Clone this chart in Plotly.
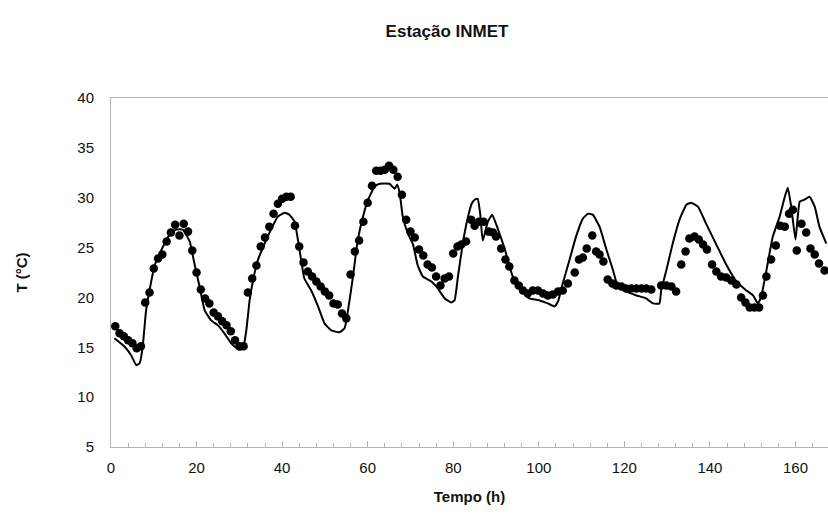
import plotly.graph_objects as go

# Observed (INMET) dots
obs_t = [1, 2, 3, 4, 5, 6, 7, 8, 9, 10, 11, 12, 13, 14, 15, 16, 17, 18, 19, 20,
         21, 22, 23, 24, 25, 26, 27, 28, 29, 30, 31, 32, 33, 34, 35, 36, 37, 38, 39, 40,
         41, 42, 43, 44, 45, 46, 47, 48, 49, 50, 51, 52, 53, 54, 55, 56, 57, 58, 59, 60,
         61, 62, 63, 64, 65, 66, 67, 68, 69, 70, 71, 72, 73, 74, 75, 76, 77, 78, 79, 80,
         81, 81.9, 83, 84.2, 85, 86, 87.1, 88.3, 89.3, 90, 91.2, 92.2, 93.1, 94.3, 95.3, 96.3,
         97.4, 98.6, 99.8, 101, 102.1, 103.3, 104.5, 105.6, 106.8, 108.4, 109.4, 110.3, 111.2,
         112.5, 113.4, 114.2, 115.1, 116.1, 117.2, 118.1, 119.3, 120.4, 121.6, 122.8, 124,
         125.1, 126.3, 128.6, 129.8, 131, 132.1, 133.3, 134.3, 135.2, 136.4, 137.4, 138.4,
         139.3, 140.5, 141.5, 142.6, 143.8, 145, 146.2, 147.3, 148.3, 149.3, 150.4, 151.5,
         152.4, 153.2, 154.3, 155.4, 156.4, 157.5, 158.5, 159.4, 160.3, 161.4, 162.5, 163.5,
         164.5, 165.5, 166.8]
obs_T = [17.1, 16.4, 16.1, 15.7, 15.4, 14.9, 15.1, 19.5, 20.5, 22.9, 23.9, 24.3, 25.6, 26.5,
         27.3, 26.2, 27.4, 26.6, 24.7, 22.5, 20.8, 19.9, 19.4, 18.5, 18.1, 17.6, 17.2, 16.6,
         15.7, 15.1, 15.1, 20.5, 21.9, 23.2, 25.1, 26.0, 27.1, 28.4, 29.4, 29.9, 30.1, 30.1,
         27.2, 25.1, 23.5, 22.6, 22.1, 21.6, 21.1, 20.6, 20.2, 19.4, 19.3, 18.4, 17.9, 22.3,
         24.6, 25.7, 27.6, 29.5, 31.2, 32.7, 32.7, 32.8, 33.2, 32.8, 32.1, 30.3, 27.8, 26.6,
         26.0, 24.8, 24.2, 23.3, 23.0, 22.1, 21.2, 21.9, 22.1, 24.4, 25.1, 25.3, 25.6, 27.8,
         27.2, 27.6, 27.6, 26.6, 26.5, 26.1, 24.9, 23.8, 23.1, 21.7, 21.2, 20.7, 20.4, 20.7,
         20.7, 20.4, 20.2, 20.3, 20.6, 20.7, 21.4, 22.5, 23.8, 24.0, 24.9, 26.2, 24.6, 24.3,
         23.6, 21.8, 21.4, 21.2, 21.1, 20.9, 20.9, 20.9, 20.9, 20.9, 20.8, 21.2, 21.2, 21.1,
         20.6, 23.3, 24.6, 25.9, 26.1, 25.8, 25.3, 24.8, 23.3, 22.6, 22.1, 22.0, 21.7, 21.3,
         20.0, 19.5, 19.0, 19.0, 19.0, 20.2, 22.1, 23.8, 25.2, 27.2, 27.1, 28.4, 28.8, 24.7,
         27.4, 26.5, 24.9, 24.3, 23.4, 22.7]

# Modelled line
mod_t = [0.8, 3.2, 4.7, 5.9, 6.7, 7.4, 8.2, 9.0, 10.2, 11.7, 13.7, 15.2, 16.8, 18.4, 19.5,
         20.7, 21.9, 23.4, 25.0, 26.5, 28.1, 29.7, 30.8, 31.6, 32.4, 33.2, 34.3, 35.9, 37.5,
         39.0, 40.6, 41.7, 42.9, 44.1, 45.2, 46.8, 48.4, 49.9, 51.5, 53.4, 54.6, 55.4, 56.5,
         57.7, 58.9, 60.1, 61.6, 62.8, 65.1, 66.3, 66.9, 67.5, 68.2, 69.4, 70.6, 71.7, 72.9,
         74.9, 76.4, 78.0, 79.5, 80.3, 81.1, 82.3, 83.4, 84.3, 85.0, 85.7, 86.3, 86.9, 88.1,
         89.1, 90.4, 92.0, 93.9, 95.5, 97.8, 100.2, 102.1, 103.7, 104.5, 105.6, 107.2, 108.7,
         110.3, 111.5, 112.6, 114.2, 115.8, 117.3, 118.5, 120.4, 122.8, 125.1, 126.7, 128.2,
         128.6, 129.8, 131.3, 132.9, 134.5, 135.6, 137.2, 139.1, 141.5, 143.8, 146.2, 148.5,
         150.1, 151.2, 152.0, 153.2, 154.7, 156.3, 157.5, 158.2, 159.0, 160.0, 161.0, 162.1,
         163.3, 164.5, 165.6, 167.2]
mod_T = [15.9, 15.05, 14.2, 13.2, 13.4, 15.05, 18.7, 20.7, 23.2, 24.7, 26.3, 26.8, 26.8,
         25.6, 23.4, 21.1, 18.7, 17.7, 17.2, 16.4, 15.4, 14.8, 14.8, 16.6, 19.7, 21.7, 23.7,
         25.4, 26.9, 28.1, 28.5, 28.3, 27.6, 24.7, 21.9, 20.7, 19.1, 17.4, 16.7, 16.5, 16.9,
         18.7, 21.9, 25.8, 28.1, 29.8, 31.1, 31.4, 31.4, 30.9, 31.3, 30.4, 28.1, 26.4, 25.3,
         23.2, 22.1, 21.6, 20.9, 19.9, 19.5, 19.7, 22.1, 25.6, 28.0, 29.4, 29.8, 29.9, 28.4,
         25.7, 27.6, 28.3, 26.9, 24.9, 22.1, 20.9, 19.9, 19.7, 19.4, 19.1, 19.6, 21.4, 23.8,
         26.1, 27.9, 28.4, 28.3, 27.1, 24.8, 22.8, 21.1, 20.6, 20.2, 19.9, 19.4, 19.4, 20.7,
         22.7, 25.4, 27.8, 29.3, 29.5, 29.1, 27.4, 25.3, 23.3, 21.6, 20.7, 20.2, 19.4, 20.1,
         22.7, 26.1, 28.1, 30.1, 31.0, 29.1, 25.8, 29.6, 29.8, 30.1, 29.1, 27.1, 25.4]

FONT = "Liberation Sans, Arial, sans-serif"

fig = go.Figure()
fig.add_trace(go.Scatter(x=mod_t, y=mod_T, mode="lines",
                         line=dict(color="black", width=2, shape="spline", smoothing=0.4),
                         showlegend=False))
fig.add_trace(go.Scatter(x=obs_t, y=obs_T, mode="markers",
                         marker=dict(color="black", size=8.5, line=dict(width=0)),
                         showlegend=False))

fig.update_layout(
    width=828, height=515,
    margin=dict(l=111, r=0, t=98, b=68),
    paper_bgcolor="white", plot_bgcolor="white",
    font=dict(family=FONT, size=15, color="#111"),
    title=dict(text="<b>Estação INMET</b>", x=447/828, xanchor="center",
               y=1 - 31/515, yanchor="middle", font=dict(size=17, family=FONT)),
    xaxis=dict(
        range=[0, 167.6], showgrid=False, zeroline=False,
        showline=True, linecolor="#b5b5b5", linewidth=1, mirror=True,
        tickmode="linear", tick0=0, dtick=20,
        ticks="inside", ticklen=6, tickcolor="#b5b5b5", tickwidth=1,
        minor=dict(dtick=4, tick0=0, ticks="inside", ticklen=4, tickcolor="#b5b5b5"),
        tickfont=dict(size=15, family=FONT),
        ticklabelstandoff=7,
        title=dict(text="<b>Tempo (h)</b>", font=dict(size=15, family=FONT), standoff=16),
    ),
    yaxis=dict(
        range=[5, 40], showgrid=False, zeroline=False,
        showline=True, linecolor="#b5b5b5", linewidth=1, mirror=False,
        tickmode="linear", tick0=5, dtick=5, ticks="",
        tickfont=dict(size=15, family=FONT),
        ticklabelstandoff=13,
        title=dict(text="<b>T (°C)</b>", font=dict(size=15, family=FONT), standoff=46),
    ),
)

fig.write_html("out.html")
